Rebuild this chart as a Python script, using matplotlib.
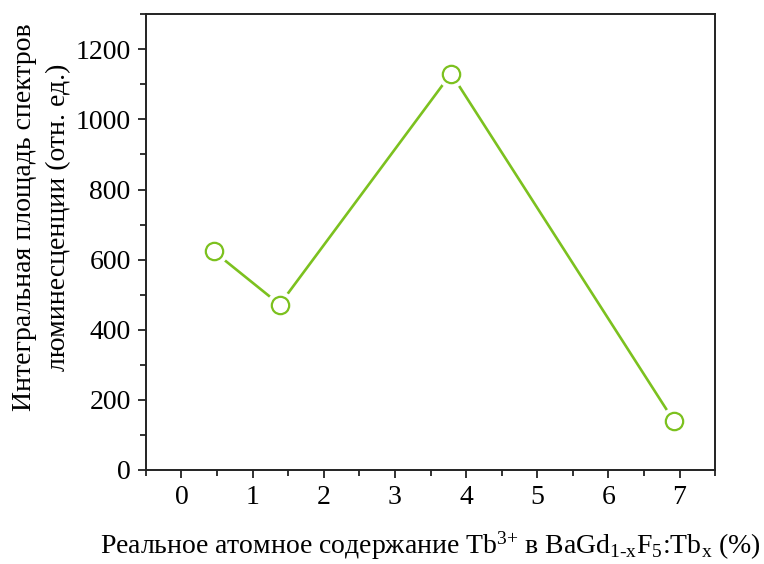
import matplotlib
matplotlib.use("Agg")
import matplotlib.pyplot as plt
from matplotlib.ticker import MultipleLocator

plt.rcParams["font.family"] = ["Liberation Serif", "DejaVu Serif"]
plt.rcParams["mathtext.fontset"] = "custom"
plt.rcParams["mathtext.rm"] = "Liberation Serif"
plt.rcParams["mathtext.it"] = "Liberation Serif"

# Tb content (at.%) and integrated luminescence area (arb. units)
tb_content = [0.45, 1.38, 3.79, 6.92]
integral_area = [624, 472, 1131, 140]

x_ticks = [0, 1, 2, 3, 4, 5, 6, 7]
y_ticks = [0, 200, 400, 600, 800, 1000, 1200]

GREEN = "#7cc11f"

fig = plt.figure(figsize=(7.64, 5.64), dpi=100)
ax = fig.add_axes([0.191, 0.1667, 0.745, 0.808])

ax.plot(tb_content, integral_area, color=GREEN, linewidth=1.9, zorder=2)
# white halo so the line stops short of each marker
ax.plot(tb_content, integral_area, linestyle="none", marker="o",
        markersize=19, markerfacecolor="white", markeredgecolor="white", zorder=3)
ax.plot(tb_content, integral_area, linestyle="none", marker="o",
        markersize=12.5, markerfacecolor="white", markeredgecolor=GREEN,
        markeredgewidth=1.6, zorder=4)

ax.set_xlim(-0.5, 7.5)
ax.set_ylim(0, 1300)
ax.set_xticks(x_ticks)
ax.set_yticks(y_ticks)
ax.xaxis.set_minor_locator(MultipleLocator(0.5))
ax.yaxis.set_minor_locator(MultipleLocator(100))

for side in ["left", "bottom", "top", "right"]:
    ax.spines[side].set_linewidth(1.4)
    ax.spines[side].set_color("#222222")
ax.tick_params(which="both", direction="out", top=False, right=False,
               width=1.3, color="#222222", labelsize=20)
ax.tick_params(which="major", length=6, pad=5)
ax.tick_params(which="minor", length=4)

ax.set_xlabel(r"Реальное атомное содержание Tb$^{\text{3+}}$ в BaGd$_{\text{1-x}}$F$_5$:Tb$_\text{x}$ (%)",
              fontsize=20, labelpad=14)
ax.set_ylabel("Интегральная площадь спектров\nлюминесценции (отн. ед.)",
              fontsize=20, linespacing=1.45)
ax.yaxis.set_label_coords(-0.132, 0.555)

fig.savefig("out.png", dpi=100)
